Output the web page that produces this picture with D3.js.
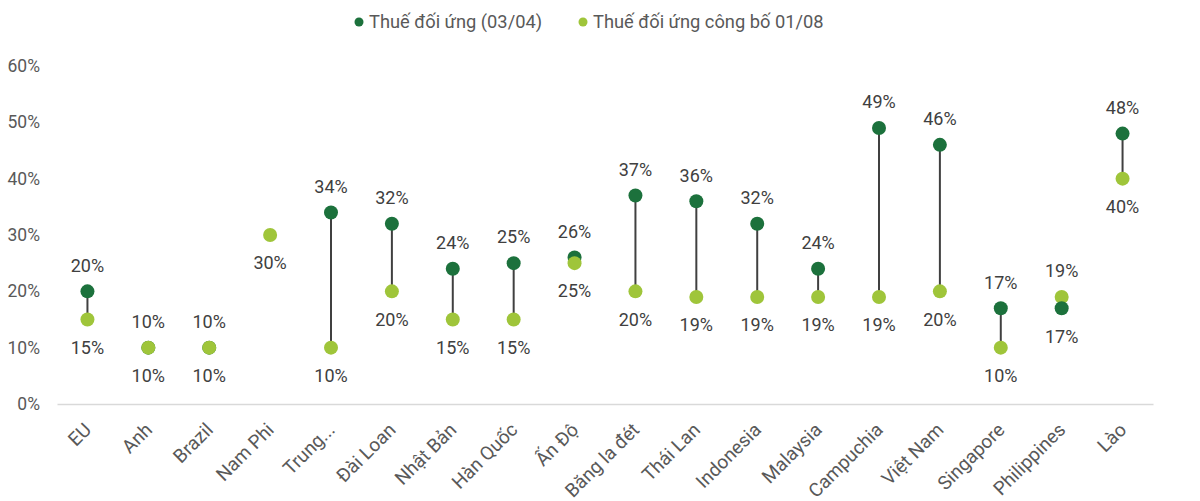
<!DOCTYPE html>
<html>
<head>
<meta charset="utf-8">
<script src="https://cdn.jsdelivr.net/npm/d3@7"></script>
<style>
  body { margin: 0; background: #fff; }
  text { font-family: Roboto, "Noto Sans", sans-serif; }
</style>
</head>
<body>
<div class="main"></div>
<script>
const width = 1200;
const height = 501;
const margin = ({top: 66, right: 47, bottom: 97, left: 57});

// dữ liệu
const countries = ['EU', 'Anh', 'Brazil', 'Nam Phi', 'Trung...', 'Đài Loan', 'Nhật Bản', 'Hàn Quốc', 'Ấn Độ',
  'Băng la đét', 'Thái Lan', 'Indonesia', 'Malaysia', 'Campuchia', 'Việt Nam', 'Singapore', 'Philippines', 'Lào'];
const tariffApr = [0.20, 0.10, 0.10, null, 0.34, 0.32, 0.24, 0.25, 0.26, 0.37, 0.36, 0.32, 0.24, 0.49, 0.46, 0.17, 0.17, 0.48];
const tariffAug = [0.15, 0.10, 0.10, 0.30, 0.10, 0.20, 0.15, 0.15, 0.25, 0.20, 0.19, 0.19, 0.19, 0.19, 0.20, 0.10, 0.19, 0.40];
const seriesNames = ['Thuế đối ứng (03/04)', 'Thuế đối ứng công bố 01/08'];
const yTicks = [0, 0.1, 0.2, 0.3, 0.4, 0.5, 0.6];

const darkGreen = '#1c713c';
const lightGreen = '#9fc53a';
const colors = [darkGreen, lightGreen];

const data = countries.map((c, i) => ({country: c, apr: tariffApr[i], aug: tariffAug[i]}));

const svg = d3.select('.main')
  .append('svg')
  .attr('width', width)
  .attr('height', height);

const x = d3.scaleBand()
  .domain(countries)
  .range([margin.left, width - margin.right])
  .padding(0);

const y = d3.scaleLinear()
  .domain([0, 0.6])
  .range([height - margin.bottom, margin.top]);

const fmt = d3.format('.0%');
const cx = d => x(d.country) + x.bandwidth() / 2;

// trục y
svg.append('g')
  .attr('transform', `translate(${margin.left}, 0)`)
  .call(d3.axisLeft(y).tickValues(yTicks).tickFormat(fmt).tickSize(0).tickPadding(17))
  .call(g => g.select('.domain').remove())
  .call(g => g.selectAll('text')
    .style('font-family', 'Roboto, sans-serif')
    .style('font-size', '17.5px')
    .attr('fill', '#595959'));

// trục x
svg.append('g')
  .attr('transform', `translate(0, ${y(0)})`)
  .call(d3.axisBottom(x).tickSize(0).tickPadding(0))
  .call(g => g.select('.domain').attr('stroke', '#d9d9d9').attr('stroke-width', 1.5))
  .call(g => g.selectAll('text')
    .style('font-family', 'Roboto, sans-serif')
    .style('font-size', '19px')
    .attr('fill', '#595959')
    .attr('text-anchor', 'end')
    .attr('dy', null)
    .attr('y', 0)
    .attr('transform', 'translate(5, 27) rotate(-45)'));

// đường nối
svg.append('g')
  .selectAll('line')
  .data(data.filter(d => d.apr != null))
  .enter()
  .append('line')
  .attr('x1', cx)
  .attr('x2', cx)
  .attr('y1', d => y(d.apr))
  .attr('y2', d => y(d.aug))
  .attr('stroke', '#404040')
  .attr('stroke-width', 2);

// điểm: giá trị thấp hơn vẽ sau
const pts = [];
data.forEach(d => {
  const p = [];
  if (d.apr != null) p.push({d, v: d.apr, s: 0});
  if (d.aug != null) p.push({d, v: d.aug, s: 1});
  p.sort((a, b) => b.v - a.v || a.s - b.s);
  pts.push(...p);
});

svg.append('g')
  .selectAll('circle')
  .data(pts)
  .enter()
  .append('circle')
  .attr('cx', p => cx(p.d))
  .attr('cy', p => y(p.v))
  .attr('r', 7)
  .attr('fill', p => colors[p.s]);

// nhãn giá trị
const labels = [];
data.forEach(d => {
  if (d.apr != null && d.aug != null) {
    const aprUp = d.apr >= d.aug;
    labels.push({d, v: d.apr, up: aprUp});
    labels.push({d, v: d.aug, up: !aprUp});
  } else if (d.aug != null) {
    labels.push({d, v: d.aug, up: false});
  }
});

svg.append('g')
  .attr('text-anchor', 'middle')
  .selectAll('text')
  .data(labels)
  .enter()
  .append('text')
  .attr('x', l => cx(l.d))
  .attr('y', l => y(l.v) + (l.up ? -26 : 28))
  .attr('dy', '0.35em')
  .style('font-size', '18px')
  .attr('fill', '#404040')
  .text(l => fmt(l.v));

// chú thích
const legend = svg.append('g');
const legendX = [359, 583];
seriesNames.forEach((name, i) => {
  legend.append('circle')
    .attr('cx', legendX[i])
    .attr('cy', 22)
    .attr('r', 4.5)
    .attr('fill', colors[i]);
  legend.append('text')
    .attr('x', legendX[i] + 10)
    .attr('y', 22)
    .attr('dy', '0.35em')
    .style('font-size', '18.3px')
    .attr('fill', '#595959')
    .text(name);
});
</script>
</body>
</html>
